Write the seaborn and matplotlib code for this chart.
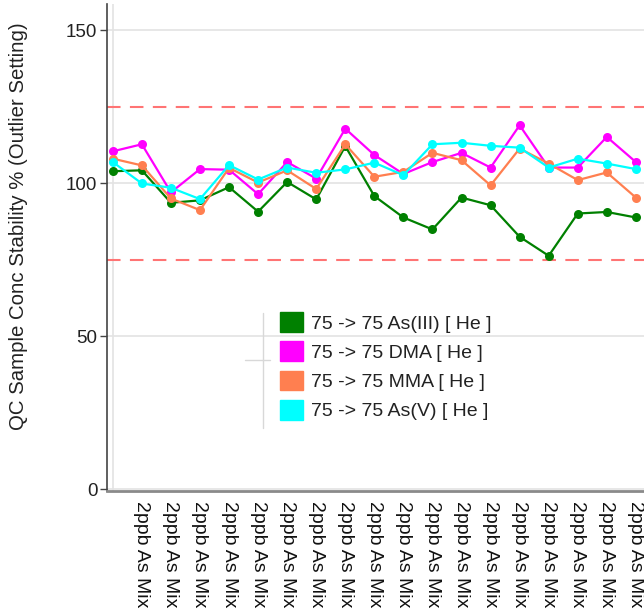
import matplotlib
matplotlib.use("Agg")
import matplotlib.pyplot as plt
from matplotlib.patches import Patch
from matplotlib.lines import Line2D
import seaborn as sns
import pandas as pd
import numpy as np

series_names = ["75 -> 75 As(III) [ He ]", "75 -> 75 DMA [ He ]",
                "75 -> 75 MMA [ He ]", "75 -> 75 As(V) [ He ]"]
series_colors = ["#008000", "#ff00ff", "#ff7f50", "#00ffff"]

as3 = [103.9, 104.2, 93.6, 94.4, 98.7, 90.7, 100.4, 94.7, 112.1, 95.8,
       88.8, 84.9, 95.3, 92.8, 82.5, 76.3, 90.1, 90.6, 88.8]
dma = [110.4, 112.7, 97.0, 104.6, 104.4, 96.4, 106.9, 101.5, 117.8, 109.2,
       103.0, 106.9, 109.9, 105.1, 118.9, 105.1, 105.1, 115.1, 106.9]
mma = [108.0, 105.8, 95.0, 91.2, 105.0, 100.2, 104.2, 98.1, 112.7, 102.1,
       103.7, 109.9, 107.5, 99.3, 111.3, 106.4, 101.0, 103.5, 95.3]
as5 = [106.9, 99.9, 98.5, 94.8, 105.9, 101.2, 105.1, 103.4, 104.5, 106.7,
       102.6, 112.7, 113.2, 112.2, 111.6, 105.1, 108.0, 106.4, 104.6]
sample_label = "2ppb As Mix"
n_samples = len(as3)
limits = [125, 75]
y_ticks = [0, 50, 100, 150]

rows = []
for name, vals in zip(series_names, [as3, dma, mma, as5]):
    for i, v in enumerate(vals):
        rows.append({"idx": i, "value": v, "series": name})
df = pd.DataFrame(rows)

sns.set_style("white")
plt.rcParams['font.family'] = ['Liberation Sans', 'DejaVu Sans']

fig = plt.figure(figsize=(6.44, 6.14), dpi=100)
ax = fig.add_axes([107/644, 1 - 491/614, 1 - 107/644, (491 - 4)/614])

# grid
ax.set_xticks(np.arange(0, n_samples, 2), minor=True)
ax.grid(True, which="minor", axis="x", color="#e3e3e3", linewidth=1.2)
ax.grid(True, which="major", axis="y", color="#e3e3e3", linewidth=1.2)
ax.set_axisbelow(True)

for lim in limits:
    ax.axhline(lim, color="#ff7474", linestyle=(0, (6.5, 4.5)), linewidth=1.5, zorder=1)

palette = dict(zip(series_names, series_colors))
sns.lineplot(data=df, x="idx", y="value", hue="series", palette=palette,
             hue_order=series_names, marker="o", markersize=6.5,
             markeredgewidth=0, linewidth=1.6, legend=False, ax=ax, zorder=3)

ax.set_xlim(-0.2, 18.28)
ax.set_ylim(-0.5, 158.5)
ax.set_yticks(y_ticks)
ax.set_yticklabels([str(t) for t in y_ticks], fontsize=13.5, color="#222222")
ax.set_xticks(np.arange(1, n_samples))
ax.set_xticklabels([sample_label] * (n_samples - 1), rotation=-90,
                   fontsize=14, color="#111111", va="top", ha="center")
ax.tick_params(axis="x", which="both", length=0, pad=7)
ax.tick_params(axis="y", length=5, width=1, color="#444444", direction="out", left=True, pad=2)
ax.set_xlabel("")
ax.set_ylabel("QC Sample Conc Stability % (Outlier Setting)", fontsize=14.7, color="#222222",
              rotation=90, va="center", ha="center")
ax.yaxis.set_label_coords((19 - 107)/537, (491 - 226)/487)

for s in ["top", "right"]:
    ax.spines[s].set_visible(False)
ax.spines["left"].set_color("#444444")
ax.spines["left"].set_linewidth(1.2)
ax.spines["bottom"].set_color("#8a8a8a")
ax.spines["bottom"].set_linewidth(2)

handles = [Patch(facecolor=c, edgecolor=c) for c in series_colors]
leg = ax.legend(handles, series_names, loc="upper left",
                bbox_to_anchor=((280 - 107)/537, (491 - 312)/487),
                frameon=False, fontsize=14, handlelength=1.2, handleheight=1.2,
                handletextpad=0.4, labelspacing=0.45, borderpad=0, borderaxespad=0)
for t in leg.get_texts():
    t.set_color("#222222")

# faint decorative lines near legend
fig.add_artist(Line2D([263/644, 263/644], [1 - 313/614, 1 - 428/614], color="#d8d8d8", lw=1))
fig.add_artist(Line2D([245/644, 270/644], [1 - 360/614, 1 - 360/614], color="#d8d8d8", lw=1))

fig.savefig("out.png", dpi=100)
